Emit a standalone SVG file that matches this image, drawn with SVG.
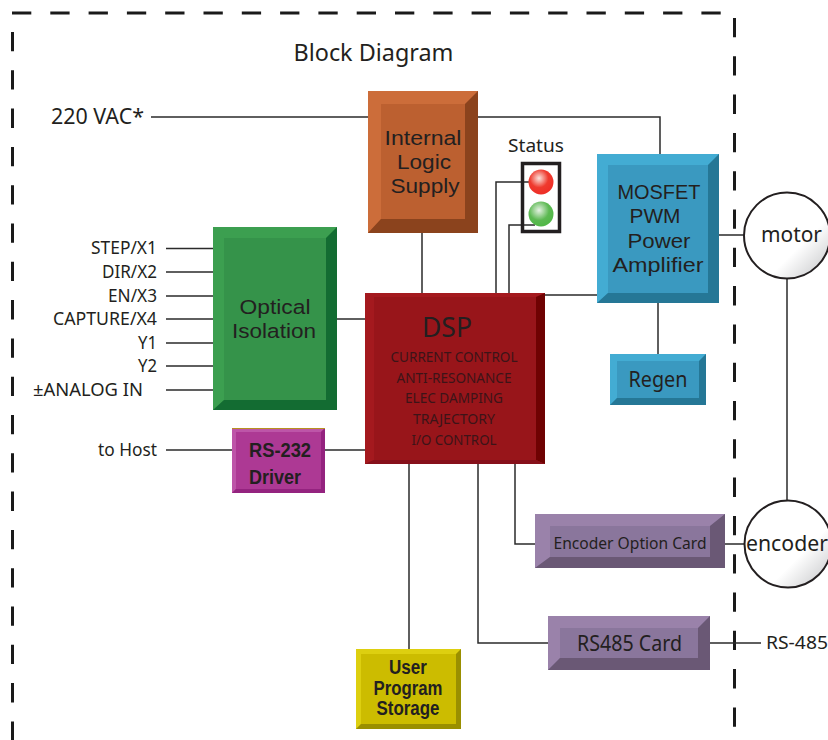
<svg xmlns="http://www.w3.org/2000/svg" width="828" height="740" viewBox="0 0 828 740">
<style>
text{font-family:"Noto Sans","Open Sans",sans-serif;fill:#231f20;text-anchor:middle}
.b{font-family:"Liberation Sans",Arial,sans-serif;font-weight:700}
.m{font-family:"Liberation Sans",Arial,sans-serif;font-size:20.500px}
.lbl{font-size:18px;text-anchor:end}
.c{fill:none;stroke:#2b2b2b;stroke-width:1.5}
.dash{fill:none;stroke:#1a1a1a;stroke-width:3;stroke-dasharray:19.3 19}
.dsp{font-size:15px;fill:#3c1418}
.circle{fill:url(#cg);stroke:#231f20;stroke-width:2}
</style>
<defs>
<linearGradient id="cg" x1="0.25" y1="0.25" x2="0.95" y2="0.95"><stop offset="0.55" stop-color="#fff"/><stop offset="1" stop-color="#c9cacc"/></linearGradient>
<radialGradient id="red" cx="0.42" cy="0.35" r="0.62"><stop offset="0" stop-color="#fbe3dc"/><stop offset="0.6" stop-color="#ef3a2e"/><stop offset="1" stop-color="#ee2f27"/></radialGradient>
<radialGradient id="grn" cx="0.42" cy="0.35" r="0.62"><stop offset="0" stop-color="#e6f2e4"/><stop offset="0.65" stop-color="#5cb952"/><stop offset="1" stop-color="#52b748"/></radialGradient>
</defs>
<g id="boundary">
<line class="dash" x1="12" y1="13" x2="734" y2="13"/>
<line class="dash" x1="12.5" y1="32" x2="12.5" y2="740"/>
<line class="dash" x1="734.5" y1="18" x2="734.5" y2="730"/>
<text x="373.500" y="61" font-size="24" textLength="160" lengthAdjust="spacingAndGlyphs">Block Diagram</text>
</g>
<g id="connectors">
<path class="c" d="M151 117H368M478 117H660V154M422 233V293M496 293V182H529M509 293V225H535M545 295H597M337 319H365"/>
<path class="c" d="M166 248.500H213M166 272H213M166 296H213M166 319H213M166 343H213M166 366H213M166 390H213M166 450H232M325 450H365"/>
<path class="c" d="M719 235H744M787 279V500M658 303V354M409 464V649M478 464V643H548M515 464V544H535M725 544H744M710 643H761"/>
</g>
<g id="internal-logic-supply">
<rect x="368" y="91" width="110" height="142" fill="#bc6030"/>
<path d="M368 91H478L465 104H381V219L368 233Z" fill="#cc6d3a"/>
<path d="M478 91V233H368L381 219H465V104Z" fill="#8b431d"/>
<text class="m" x="423" y="145" textLength="77" lengthAdjust="spacingAndGlyphs">Internal</text>
<text class="m" x="424" y="169" textLength="54" lengthAdjust="spacingAndGlyphs">Logic</text>
<text class="m" x="425" y="193" textLength="69" lengthAdjust="spacingAndGlyphs">Supply</text>
</g>
<g id="status">
<text x="536" y="152" font-size="18" textLength="56" lengthAdjust="spacingAndGlyphs">Status</text>
<rect x="522.500" y="163.500" width="37" height="68" fill="none" stroke="#231f20" stroke-width="3.500"/>
<circle cx="541" cy="182" r="12.500" fill="url(#red)"/>
<circle cx="541" cy="214" r="12.500" fill="url(#grn)"/>
</g>
<g id="optical-isolation">
<rect x="213" y="227" width="124" height="183" fill="#35934a"/>
<path d="M213 227H337L326 238H224V400L213 410Z" fill="#3c9f50"/>
<path d="M337 227V410H213L224 400H326V238Z" fill="#136c32"/>
<text class="m" x="275" y="314" textLength="71" lengthAdjust="spacingAndGlyphs">Optical</text>
<text class="m" x="274" y="338" textLength="84" lengthAdjust="spacingAndGlyphs">Isolation</text>
</g>
<g id="dsp">
<rect x="365" y="293" width="180" height="171" fill="#98151a"/>
<path d="M365 293H545L536 297H374V460L365 464Z" fill="#a4191e"/>
<path d="M545 293V464L536 460V297Z" fill="#6f0202"/>
<path d="M365 464H545L536 460H374Z" fill="#86101a"/>
<text x="447" y="337" font-size="27" textLength="50" lengthAdjust="spacingAndGlyphs">DSP</text>
<text class="dsp"><tspan x="454" y="362" textLength="127" lengthAdjust="spacingAndGlyphs">CURRENT CONTROL</tspan><tspan x="454" y="383" textLength="115" lengthAdjust="spacingAndGlyphs">ANTI-RESONANCE</tspan><tspan x="454" y="403" textLength="98" lengthAdjust="spacingAndGlyphs">ELEC DAMPING</tspan><tspan x="454" y="424" textLength="82" lengthAdjust="spacingAndGlyphs">TRAJECTORY</tspan><tspan x="454" y="445" textLength="85" lengthAdjust="spacingAndGlyphs">I/O CONTROL</tspan></text>
</g>
<g id="rs232-driver">
<rect x="232" y="428" width="93" height="65" fill="#ad3994"/>
<path d="M232 428H325L321 432H236V489L232 493Z" fill="#bd55a8"/>
<path d="M325 428V493H232L236 489H321V432Z" fill="#94237f"/>
<line x1="232" y1="428.500" x2="325" y2="428.500" stroke="#b89020" stroke-width="1"/>
<text class="b" font-size="21"><tspan x="280" y="457" textLength="62" lengthAdjust="spacingAndGlyphs">RS-232</tspan><tspan x="275" y="484" textLength="52" lengthAdjust="spacingAndGlyphs">Driver</tspan></text>
</g>
<g id="mosfet">
<rect x="597" y="154" width="122" height="149" fill="#3a99c0"/>
<path d="M597 154H719L708 165H608V293L597 303Z" fill="#43acd3"/>
<path d="M719 154V303H597L608 293H708V165Z" fill="#257796"/>
<text class="m" x="659" y="199" textLength="83" lengthAdjust="spacingAndGlyphs">MOSFET</text>
<text class="m" x="655" y="223" textLength="51" lengthAdjust="spacingAndGlyphs">PWM</text>
<text class="m" x="659" y="248" textLength="63" lengthAdjust="spacingAndGlyphs">Power</text>
<text class="m" x="658" y="272" textLength="91" lengthAdjust="spacingAndGlyphs">Amplifier</text>
</g>
<g id="regen">
<rect x="610" y="354" width="96" height="51" fill="#3a99c0"/>
<path d="M610 354H706L699 361H617V398L610 405Z" fill="#43acd3"/>
<path d="M706 354V405H610L617 398H699V361Z" fill="#257796"/>
<text x="658" y="387" font-size="21" textLength="59" lengthAdjust="spacingAndGlyphs">Regen</text>
</g>
<g id="motor">
<circle class="circle" cx="787" cy="235.500" r="43"/>
<text x="791.500" y="242" font-size="21" textLength="61" lengthAdjust="spacingAndGlyphs">motor</text>
</g>
<g id="encoder">
<circle class="circle" cx="788" cy="544" r="43.500"/>
<text x="787" y="551" font-size="21" textLength="82" lengthAdjust="spacingAndGlyphs">encoder</text>
</g>
<g id="encoder-option-card">
<rect x="535" y="514" width="190" height="54" fill="#8a769c"/>
<path d="M535 514H725L710 526H550V557L535 568Z" fill="#9a82aa"/>
<path d="M725 514V568H535L550 557H710V526Z" fill="#6a5875"/>
<text x="630" y="549" font-size="15.500" textLength="153" lengthAdjust="spacingAndGlyphs">Encoder Option Card</text>
</g>
<g id="rs485-card">
<rect x="548" y="616" width="162" height="54" fill="#8a769c"/>
<path d="M548 616H710L698 628H560V658L548 670Z" fill="#9a82aa"/>
<path d="M710 616V670H548L560 658H698V628Z" fill="#6a5875"/>
<text x="629.500" y="651" font-size="21" textLength="105" lengthAdjust="spacingAndGlyphs">RS485 Card</text>
</g>
<g id="user-program-storage">
<rect x="356" y="649" width="105" height="80" fill="#ccbc00"/>
<path d="M356 649H461L456 654H361V724L356 729Z" fill="#ddcf10"/>
<path d="M461 649V729H356L361 724H456V654Z" fill="#9a8f00"/>
<text class="b" font-size="20"><tspan x="408" y="674" textLength="38" lengthAdjust="spacingAndGlyphs">User</tspan><tspan x="408" y="695" textLength="69" lengthAdjust="spacingAndGlyphs">Program</tspan><tspan x="408" y="715" textLength="63" lengthAdjust="spacingAndGlyphs">Storage</tspan></text>
</g>
<g id="labels">
<text x="144" y="124" font-size="22" style="text-anchor:end" textLength="93" lengthAdjust="spacingAndGlyphs">220 VAC*</text>
<text class="lbl"><tspan x="157" y="254" textLength="66" lengthAdjust="spacingAndGlyphs">STEP/X1</tspan><tspan x="157" y="278" textLength="55" lengthAdjust="spacingAndGlyphs">DIR/X2</tspan><tspan x="157" y="302" textLength="49" lengthAdjust="spacingAndGlyphs">EN/X3</tspan><tspan x="157" y="325" textLength="104" lengthAdjust="spacingAndGlyphs">CAPTURE/X4</tspan><tspan x="157" y="349" textLength="19" lengthAdjust="spacingAndGlyphs">Y1</tspan><tspan x="157" y="372" textLength="19" lengthAdjust="spacingAndGlyphs">Y2</tspan><tspan x="143" y="396" textLength="110" lengthAdjust="spacingAndGlyphs">±ANALOG IN</tspan></text>
<text class="lbl" x="157" y="456" textLength="59" lengthAdjust="spacingAndGlyphs">to Host</text>
<text x="797" y="649" font-size="18" textLength="62" lengthAdjust="spacingAndGlyphs">RS-485</text>
</g>
</svg>
